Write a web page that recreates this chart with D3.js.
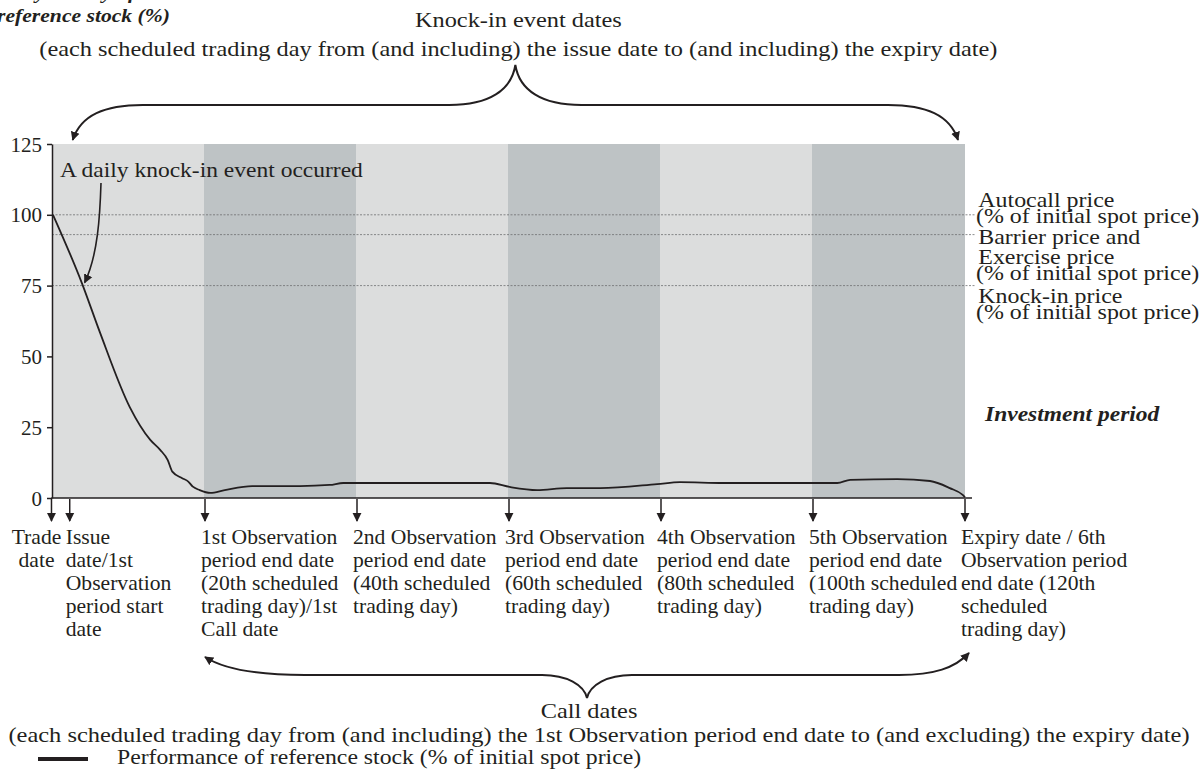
<!DOCTYPE html>
<html>
<head>
<meta charset="utf-8">
<script src="https://cdn.jsdelivr.net/npm/d3@7"></script>
<style>
  html, body { margin: 0; padding: 0; background: #fff; }
  svg { display: block; font-family: 'Liberation Serif', 'Times New Roman', serif; fill: #231f20; }
  text { font-size: 21px; }
  .bi { font-weight: bold; font-style: italic; }
</style>
</head>
<body>
<svg id="chart" width="1199" height="769"></svg>
<script>
/* chart values */
const yTicks = [0, 25, 50, 75, 100, 125]
const periodEnds = [0, 20, 40, 60, 80, 100, 120]
const stockDays = [0, 3.8, 6.2, 10.1, 12.8, 14.1, 15.1, 15.7, 17.0, 17.8, 18.4, 19.3, 20.7, 22.6, 26.2,
  32.5, 36.4, 38.2, 57.5, 60.1, 63.7, 67.6, 72.0, 79.5, 82.5, 88.2, 103.2, 104.9, 111.1, 115.4,
  118.0, 119.7, 120]
const stockValues = [100, 75.9, 58.3, 32.1, 20.5, 17.0, 13.4, 9.3, 7.0, 5.8, 4.0, 2.8, 1.8, 2.8, 4.2,
  4.2, 4.6, 5.3, 5.3, 3.9, 2.8, 3.5, 3.5, 4.9, 5.6, 5.3, 5.3, 6.4, 6.7, 6.0,
  3.5, 1.1, 0.3]
const levels = [100, 93, 75]
const levelLabels = [
  ['Autocall price', '(% of initial spot price)'],
  ['Barrier price and', 'Exercise price', '(% of initial spot price)'],
  ['Knock-in price', '(% of initial spot price)']
]
const eventDays = [-0.2, 2.2, 20, 40, 60, 80, 100, 120]
const eventLabels = [
  ['Trade', 'date'],
  ['Issue', 'date/1st', 'Observation', 'period start', 'date'],
  ['1st Observation', 'period end date', '(20th scheduled', 'trading day)/1st', 'Call date'],
  ['2nd Observation', 'period end date', '(40th scheduled', 'trading day)'],
  ['3rd Observation', 'period end date', '(60th scheduled', 'trading day)'],
  ['4th Observation', 'period end date', '(80th scheduled', 'trading day)'],
  ['5th Observation', 'period end date', '(100th scheduled', 'trading day)'],
  ['Expiry date / 6th', 'Observation period', 'end date (120th', 'scheduled', 'trading day)']
]
const knockInTitle = ['Knock-in event dates',
  '(each scheduled trading day from (and including) the issue date to (and including) the expiry date)']
const callTitle = ['Call dates',
  '(each scheduled trading day from (and including) the 1st Observation period end date to (and excluding) the expiry date)']
const yTitle = ['Daily history of the', 'reference stock (%)']
const legendLabel = 'Performance of reference stock (% of initial spot price)'

const ink = '#231f20'
const bandColors = ['#dcdddd', '#bec3c5']

/** Write several lines of text, one tspan per line, widened by sx like the source print */
function multiline (sel, lines, x, y, lh, sx = 1.14) {
  const t = sel.append('text').attr('transform', `translate(${x},${y}) scale(${sx},1)`)
  lines.forEach((l, i) => t.append('tspan').attr('x', 0).attr('dy', i ? lh : 0).text(l))
  return t
}

function main () {
  const svg = d3.select('#chart')
  const x = d3.scaleLinear().domain([0, 120]).range([53, 965])
  const y = d3.scaleLinear().domain([0, 125]).range([498, 144])

  svg.append('defs').append('marker')
    .attr('id', 'arrow').attr('viewBox', '0 0 10 10')
    .attr('refX', 9).attr('refY', 5)
    .attr('markerWidth', 9).attr('markerHeight', 10)
    .attr('markerUnits', 'userSpaceOnUse')
    .attr('orient', 'auto-start-reverse')
    .append('path').attr('d', 'M0,0L10,5L0,10z').attr('fill', ink)

  /* observation period bands */
  svg.selectAll('rect.band')
    .data(d3.pairs(periodEnds)).enter().append('rect').classed('band', true)
    .attr('x', d => x(d[0]) - 1)
    .attr('width', d => x(d[1]) - x(d[0]) + 1)
    .attr('y', y(125))
    .attr('height', y(0) - y(125))
    .attr('fill', (d, i) => bandColors[i % 2])

  /* reference price levels */
  svg.selectAll('line.level')
    .data(levels).enter().append('line').classed('level', true)
    .attr('x1', x(0) - 1).attr('x2', x(120) + 10)
    .attr('y1', d => y(d)).attr('y2', d => y(d))
    .attr('stroke', '#6d6e70').attr('stroke-width', 0.8)
    .attr('stroke-dasharray', '2,1.5')

  const labelTop = [207, 244, 303]
  const labelGap = [[16], [20, 16], [16]]
  levelLabels.forEach((lines, i) => {
    const t = svg.append('text').attr('transform', `translate(${x(120) + 11},${labelTop[i]}) scale(1.14,1)`)
    lines.forEach((l, j) => t.append('tspan').attr('x', j === lines.length - 1 ? 0 : 2)
      .attr('dy', j ? labelGap[i][j - 1] : 0).text(l))
  })

  /* stock performance line */
  const line = d3.line()
    .x((d, i) => x(stockDays[i]))
    .y(d => y(d))
    .curve(d3.curveMonotoneX)
  svg.append('path')
    .attr('d', line(stockValues))
    .attr('fill', 'none').attr('stroke', ink).attr('stroke-width', 1.8)

  /* axes */
  svg.append('g')
    .attr('transform', `translate(${x(0) - 1},0)`)
    .call(d3.axisLeft(y).tickValues(yTicks).tickSize(5).tickSizeOuter(0).tickPadding(5))
    .call(g => g.attr('font-family', null).attr('font-size', null))
    .call(g => g.selectAll('path, line').attr('stroke', ink).attr('stroke-width', 1.5))
    .call(g => g.selectAll('text').attr('fill', ink).attr('dy', '0.34em'))
  svg.append('line')
    .attr('x1', x(0) - 1.7).attr('x2', x(120) + 7)
    .attr('y1', y(0)).attr('y2', y(0))
    .attr('stroke', ink).attr('stroke-width', 1.5)

  /* event arrows and labels below the axis */
  svg.selectAll('line.event')
    .data(eventDays).enter().append('line').classed('event', true)
    .attr('x1', d => x(d)).attr('x2', d => x(d))
    .attr('y1', y(0) + 1).attr('y2', y(0) + 23)
    .attr('stroke', ink).attr('stroke-width', 1.5)
    .attr('marker-end', 'url(#arrow)')
  eventLabels.forEach((lines, i) => {
    if (i === 0) {
      multiline(svg, lines, x(eventDays[i]) - 15, 544, 23, 1.03).attr('text-anchor', 'middle')
    } else {
      multiline(svg, lines, x(eventDays[i]) - 4, 544, 23, 1.03)
    }
  })

  /* knock-in brace on top */
  const kl = x(eventDays[1]) + 3
  const kr = x(120) - 7
  const km = (kl + kr) / 2
  const top = d3.path()
  top.moveTo(kl, 140)
  top.bezierCurveTo(kl + 8, 115, kl + 32, 105, kl + 70, 105)
  top.lineTo(km - 66, 105)
  top.bezierCurveTo(km - 26, 105, km - 4, 90, km, 65)
  top.bezierCurveTo(km + 4, 90, km + 26, 105, km + 66, 105)
  top.lineTo(kr - 70, 105)
  top.bezierCurveTo(kr - 32, 105, kr - 8, 115, kr, 140)
  svg.append('path').attr('d', top.toString())
    .attr('fill', 'none').attr('stroke', ink).attr('stroke-width', 2)
    .attr('marker-start', 'url(#arrow)').attr('marker-end', 'url(#arrow)')
  multiline(svg, knockInTitle, km + 3, 27, 29, 1.16).attr('text-anchor', 'middle')

  /* call dates brace below */
  const cl = x(20)
  const cr = x(120) + 4
  const cm = (cl + cr) / 2
  const bottom = d3.path()
  bottom.moveTo(cl, 657)
  bottom.bezierCurveTo(cl + 20, 670, cl + 55, 675, cl + 100, 675)
  bottom.lineTo(cm - 45, 675)
  bottom.bezierCurveTo(cm - 20, 675, cm - 3, 685, cm, 698)
  bottom.bezierCurveTo(cm + 3, 685, cm + 20, 675, cm + 45, 675)
  bottom.lineTo(cr - 70, 675)
  bottom.bezierCurveTo(cr - 35, 675, cr - 14, 668, cr, 653)
  svg.append('path').attr('d', bottom.toString())
    .attr('fill', 'none').attr('stroke', ink).attr('stroke-width', 2)
    .attr('marker-start', 'url(#arrow)').attr('marker-end', 'url(#arrow)')
  multiline(svg, callTitle.slice(0, 1), cm + 2, 718, 0, 1.16).attr('text-anchor', 'middle')
  multiline(svg, callTitle.slice(1), cm + 12, 742, 0, 1.165).attr('text-anchor', 'middle')

  /* knock-in annotation */
  multiline(svg, ['A daily knock-in event occurred'], 60, 177, 0, 1.12)
  const ki = d3.path()
  ki.moveTo(101, 183)
  ki.bezierCurveTo(100, 215, 98, 255, x(3.9) + 2, y(75) - 3)
  svg.append('path').attr('d', ki.toString())
    .attr('fill', 'none').attr('stroke', ink).attr('stroke-width', 1.6)
    .attr('marker-end', 'url(#arrow)')

  /* titles */
  multiline(svg, yTitle, -3, -1, 23, 1.11).attr('class', 'bi').style('font-size', '19.5px')
  multiline(svg, ['Investment period'], 985, 421, 0, 1.12).attr('class', 'bi')

  /* legend */
  svg.append('line').attr('x1', 38).attr('x2', 88).attr('y1', 759).attr('y2', 759)
    .attr('stroke', ink).attr('stroke-width', 4)
  multiline(svg, [legendLabel], 117, 764, 0, 1.13)
}

main()
</script>
</body>
</html>
